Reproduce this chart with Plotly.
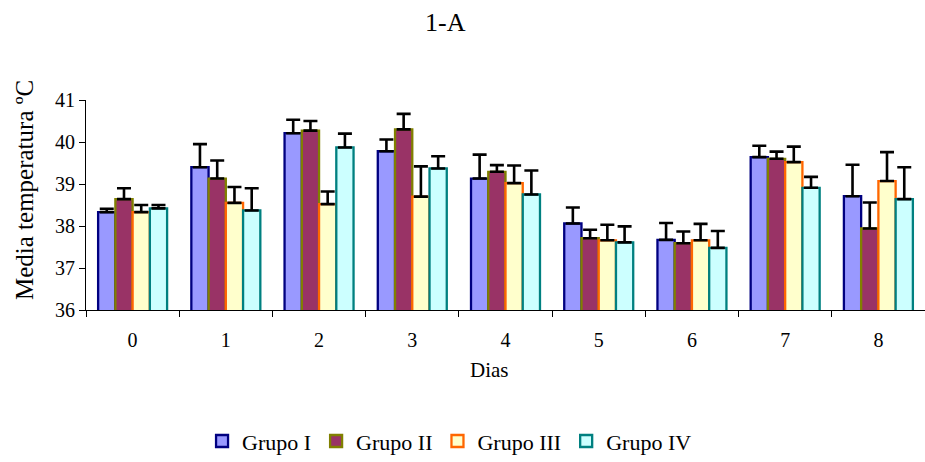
import plotly.graph_objects as go

days = ["0", "1", "2", "3", "4", "5", "6", "7", "8"]
grupo_i = [38.33, 39.40, 40.21, 39.78, 39.13, 38.06, 37.67, 39.64, 38.71]
grupo_i_err = [0.08, 0.55, 0.32, 0.28, 0.57, 0.38, 0.40, 0.27, 0.75]
grupo_ii = [38.64, 39.13, 40.27, 40.30, 39.29, 37.71, 37.59, 39.60, 37.94]
grupo_ii_err = [0.26, 0.43, 0.23, 0.37, 0.16, 0.20, 0.28, 0.17, 0.62]
grupo_iii = [38.33, 38.55, 38.52, 38.70, 39.02, 37.66, 37.66, 39.52, 39.07]
grupo_iii_err = [0.17, 0.38, 0.30, 0.72, 0.42, 0.37, 0.39, 0.37, 0.69]
grupo_iv = [38.42, 38.37, 39.87, 39.37, 38.75, 37.61, 37.48, 38.91, 38.64]
grupo_iv_err = [0.08, 0.53, 0.33, 0.29, 0.57, 0.38, 0.40, 0.26, 0.76]

names = ["Grupo I", "Grupo II", "Grupo III", "Grupo IV"]
fills = ["#9999FF", "#993366", "#FFFFCC", "#CCFFFF"]
borders = ["#000080", "#808000", "#FF6600", "#008080"]
series = [grupo_i, grupo_ii, grupo_iii, grupo_iv]
errs = [grupo_i_err, grupo_ii_err, grupo_iii_err, grupo_iv_err]

font = "'Liberation Serif', 'Times New Roman', serif"

fig = go.Figure()
for n, f, b, s, e in zip(names, fills, borders, series, errs):
    fig.add_trace(go.Bar(
        x=days, y=s, name=n,
        marker=dict(color=f, line=dict(color=b, width=2.3)),
        error_y=dict(type="data", array=e, symmetric=False, arrayminus=[0]*len(e),
                     color="black", thickness=2.6, width=7),
    ))

fig.update_layout(
    width=925, height=462,
    margin=dict(l=86, r=0, t=100, b=152),
    paper_bgcolor="white", plot_bgcolor="white",
    barmode="group", bargap=0.26, bargroupgap=0,
    font=dict(family=font, size=20, color="black"),
    showlegend=True,
    legend=dict(orientation="h", xref="container", yref="container",
                x=0.486, xanchor="center", y=0.045, yanchor="middle",
                font=dict(size=22, family=font), tracegroupgap=0),
    xaxis=dict(type="category", showline=True, linecolor="black", linewidth=1,
               ticks="outside", tickson="boundaries", ticklen=6, tickcolor="black",
               showgrid=False, tickfont=dict(size=20), range=[-0.5, 8.5],
               ticklabelstandoff=12),
    yaxis=dict(range=[36, 41], tickvals=[36, 37, 38, 39, 40, 41], showline=True,
               linecolor="black", linewidth=1, ticks="outside", ticklen=6,
               tickcolor="black", showgrid=False, zeroline=False,
               tickfont=dict(size=20)),
    annotations=[
        dict(text="1-A", xref="paper", yref="paper", x=(445-86)/839, y=1+(100-22)/210,
             showarrow=False, font=dict(size=26, family=font), xanchor="center", yanchor="middle"),
        dict(text="Dias", xref="paper", yref="paper", x=(489-86)/839, y=-(370-310)/210,
             showarrow=False, font=dict(size=21, family=font), xanchor="center", yanchor="middle"),
        dict(text="Media temperatura ºC", xref="paper", yref="paper", x=-(86-24)/839,
             y=(310-190)/210, textangle=-90, showarrow=False,
             font=dict(size=25, family=font), xanchor="center", yanchor="middle"),
    ],
)

fig.write_html("out.html")
